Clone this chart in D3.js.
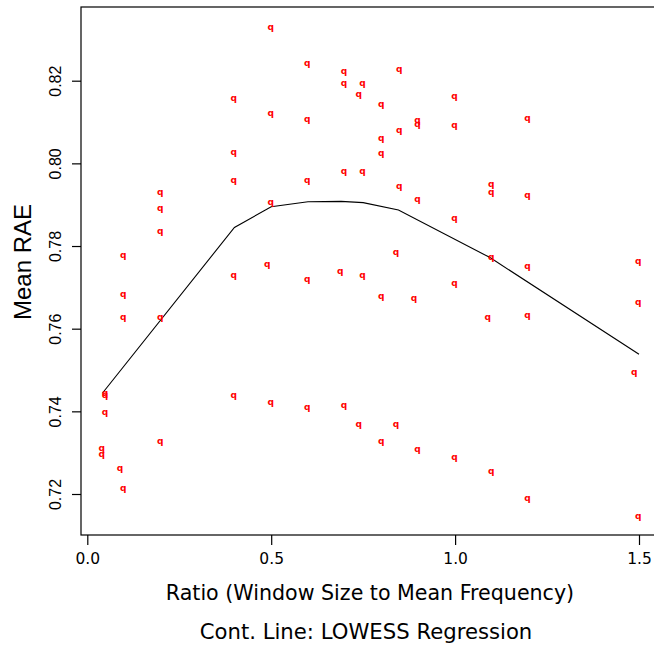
<!DOCTYPE html>
<html><head><meta charset="utf-8">
<script src="https://cdn.jsdelivr.net/npm/d3@7/dist/d3.min.js"></script>
<style>body{margin:0;background:#fff}svg{display:block}</style>
</head><body>
<script>
// Scatter data (ratio, mean RAE)
const ratio = [
  0.039,0.039,
  0.048,0.048,0.048,
  0.089,
  0.098,0.098,0.098,0.098,
  0.198,0.198,0.198,0.198,0.198,
  0.398,0.398,0.398,0.398,0.398,
  0.489,
  0.499,0.499,0.499,0.499,
  0.598,0.598,0.598,0.598,0.598,
  0.688,
  0.698,0.698,0.698,0.698,
  0.738,0.738,
  0.748,0.748,0.748,
  0.799,0.799,0.799,0.799,0.799,
  0.839,0.839,
  0.848,0.848,0.848,
  0.888,
  0.898,0.898,0.898,0.898,
  0.998,0.998,0.998,0.998,0.998,
  1.089,
  1.098,1.098,1.098,1.098,
  1.197,1.197,1.197,1.197,1.197,
  1.487,
  1.498,1.498,1.498
];
const meanRAE = [
  0.7309,0.7295,
  0.7443,0.7437,0.7397,
  0.7260,
  0.7776,0.7682,0.7626,0.7211,
  0.7929,0.7889,0.7834,0.7627,0.7325,
  0.8155,0.8025,0.7958,0.7727,0.7436,
  0.7754,
  0.8328,0.8120,0.7905,0.7421,
  0.8240,0.8105,0.7957,0.7718,0.7407,
  0.7738,
  0.8222,0.8193,0.7980,0.7412,
  0.8166,0.7366,
  0.8193,0.7978,0.7727,
  0.8141,0.8059,0.8023,0.7676,0.7325,
  0.7782,0.7366,
  0.8226,0.8079,0.7944,
  0.7673,
  0.8103,0.8092,0.7912,0.7306,
  0.8160,0.8090,0.7865,0.7709,0.7287,
  0.7625,
  0.7947,0.7928,0.7772,0.7253,
  0.8108,0.7920,0.7749,0.7631,0.7187,
  0.7492,
  0.7762,0.7663,0.7144
];
// LOWESS fit vertices
const lowessX = [0.042,0.40,0.50,0.60,0.69,0.75,0.846,1.095,1.50];
const lowessY = [0.7445,0.7845,0.7895,0.7907,0.7908,0.7905,0.7887,0.7772,0.7538];
// Ticks and labels
const xTicks = [0.0,0.5,1.0,1.5];
const yTicks = [0.72,0.74,0.76,0.78,0.80,0.82];
const xLabel = "Ratio (Window Size to Mean Frequency)";
const subLabel = "Cont. Line: LOWESS Regression";
const yLabel = "Mean RAE";

const W = 654, H = 645;
const svg = d3.select("body").append("svg").attr("width", W).attr("height", H);

const x = d3.scaleLinear().domain([0, 1.5]).range([87.3, 639]);
const y = d3.scaleLinear().domain([0.72, 0.82]).range([494, 80.7]);

const box = {l: 81, t: 7, b: 535, r: 662};
svg.append("rect").attr("x", box.l).attr("y", box.t)
  .attr("width", box.r - box.l).attr("height", box.b - box.t)
  .attr("fill", "none").attr("stroke", "#000").attr("stroke-width", 1.2);

// x axis
const xAxis = d3.axisBottom(x).tickValues(xTicks).tickFormat(d3.format(".1f")).tickSize(10).tickPadding(8);
const gx = svg.append("g").attr("transform", `translate(0,${box.b})`).call(xAxis);
gx.select(".domain").remove();
gx.selectAll("line").attr("stroke", "#000").attr("stroke-width", 1.2);
gx.selectAll("text").attr("font-family", "DejaVu Sans").attr("font-size", 15.5).attr("fill", "#000");

// y axis
const yAxis = d3.axisLeft(y).tickValues(yTicks).tickFormat(d3.format(".2f")).tickSize(9).tickPadding(0);
const gy = svg.append("g").attr("transform", `translate(${box.l},0)`).call(yAxis);
gy.select(".domain").remove();
gy.selectAll("line").attr("stroke", "#000").attr("stroke-width", 1.2);
gy.selectAll("text").attr("font-family", "Liberation Sans").attr("font-size", 16).attr("fill", "#000")
  .attr("x", 0).attr("dy", null)
  .attr("transform", "translate(-26,0) rotate(-90)")
  .attr("text-anchor", "middle").attr("dominant-baseline", "central");

// LOWESS line
svg.append("path")
  .datum(lowessX.map((d, i) => [d, lowessY[i]]))
  .attr("fill", "none").attr("stroke", "#000").attr("stroke-width", 1.1)
  .attr("d", d3.line().x(d => x(d[0])).y(d => y(d[1])));

// points as "q" characters
svg.append("g").selectAll("text").data(ratio.map((d, i) => [d, meanRAE[i]])).join("text")
  .attr("x", d => x(d[0])).attr("y", d => y(d[1]) + 2)
  .attr("text-anchor", "middle")
  .attr("font-family", "DejaVu Sans").attr("font-weight", "bold").attr("font-size", 9)
  .attr("fill", "#ff0000").text("q");

// labels
svg.append("text").attr("x", 370).attr("y", 600).attr("text-anchor", "middle")
  .attr("font-family", "DejaVu Sans").attr("font-size", 20.6).text(xLabel);
svg.append("text").attr("x", 366).attr("y", 639).attr("text-anchor", "middle")
  .attr("font-family", "DejaVu Sans").attr("font-size", 21.2).text(subLabel);
svg.append("text").attr("transform", "translate(31,262) rotate(-90)").attr("text-anchor", "middle")
  .attr("font-family", "Liberation Sans").attr("font-size", 24).text(yLabel);
</script>
</body></html>
